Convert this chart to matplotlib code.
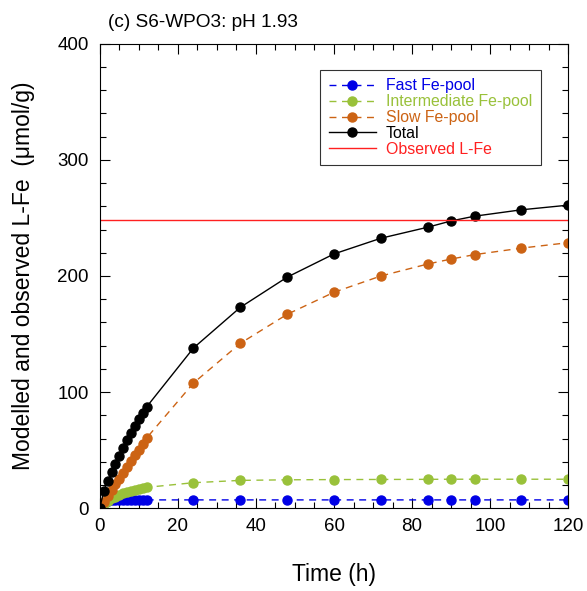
import matplotlib
matplotlib.use("Agg")
import matplotlib.pyplot as plt
from matplotlib.ticker import MultipleLocator

plt.rcParams['font.family'] = ['Liberation Sans', 'DejaVu Sans']

# sampling times (h)
t = [0, 1, 2, 3, 4, 5, 6, 7, 8, 9, 10, 11, 12,
     24, 36, 48, 60, 72, 84, 90, 96, 108, 120]

fast = [0, 4.5, 6, 6.7, 7, 7.2, 7.2, 7.2, 7.2, 7.2, 7.2, 7.2, 7.2,
        7.2, 7.2, 7.2, 7.2, 7.2, 7.2, 7.2, 7.2, 7.2, 7.2]
inter = [0, 4, 6.5, 8.5, 10, 11.5, 12.8, 14, 15, 16, 16.8, 17.5, 18,
         22, 24, 24.5, 24.7, 24.8, 24.9, 25, 25, 25, 25]
slow = [0, 5, 10.5, 15.5, 20.5, 25.5, 30.5, 35.5, 40.5, 45.5, 50.5, 55.5, 60.5,
        107.8, 142, 167, 186, 200, 210.3, 214.6, 218.4, 224, 228.7]
total = [0, 14.6, 23.5, 30.8, 38.5, 45.4, 51.7, 58.6, 65, 70.7, 76.5, 82, 87.3,
         138, 173, 199, 219, 232.5, 242, 247.4, 251.5, 257, 261]
observed = 248

fig = plt.figure(figsize=(5.87, 5.91), dpi=100)
ax = fig.add_axes([0.170, 0.140, 0.798, 0.786])

ms = 6.5
ax.plot(t, fast, '--', color='#0000e6', lw=1, marker='o', ms=ms, dashes=(5, 4),
        label='Fast Fe-pool')
ax.plot(t, inter, '--', color='#99c13a', lw=1, marker='o', ms=ms, dashes=(5, 4),
        label='Intermediate Fe-pool')
ax.plot(t, slow, '--', color='#cc6314', lw=1, marker='o', ms=ms, dashes=(5, 4),
        label='Slow Fe-pool')
ax.plot(t, total, '-', color='black', lw=1, marker='o', ms=ms, label='Total')
ax.axhline(observed, color='#ff2020', lw=1, label='Observed L-Fe')

ax.set_xlim(0, 120)
ax.set_ylim(0, 400)
ax.xaxis.set_major_locator(MultipleLocator(20))
ax.xaxis.set_minor_locator(MultipleLocator(5))
ax.yaxis.set_major_locator(MultipleLocator(100))
ax.yaxis.set_minor_locator(MultipleLocator(20))
ax.tick_params(which='both', direction='in', top=True, right=True, labelsize=13.5)
ax.tick_params(which='major', length=7, width=0.8)
ax.tick_params(which='minor', length=4, width=0.8)
ax.tick_params(axis='x', pad=7)
ax.tick_params(axis='y', pad=8)

ax.set_xlabel('Time (h)', fontsize=16.5, labelpad=20)
ax.set_ylabel('Modelled and observed L-Fe  (\u03bcmol/g)', fontsize=16.5, labelpad=16)
fig.text(0.184, 0.955, '(c) S6-WPO3: pH 1.93', fontsize=13.7)

leg = ax.legend(loc='upper left', bbox_to_anchor=(0.453, 0.961), fontsize=11.4,
                frameon=True, fancybox=False, edgecolor='black',
                handlelength=3.0, handletextpad=0.6, labelspacing=0.05,
                borderpad=0.55)
leg.get_frame().set_linewidth(0.8)
for txt, line in zip(leg.get_texts(), leg.get_lines()):
    txt.set_color(line.get_color())

fig.savefig('out.png', dpi=100)
